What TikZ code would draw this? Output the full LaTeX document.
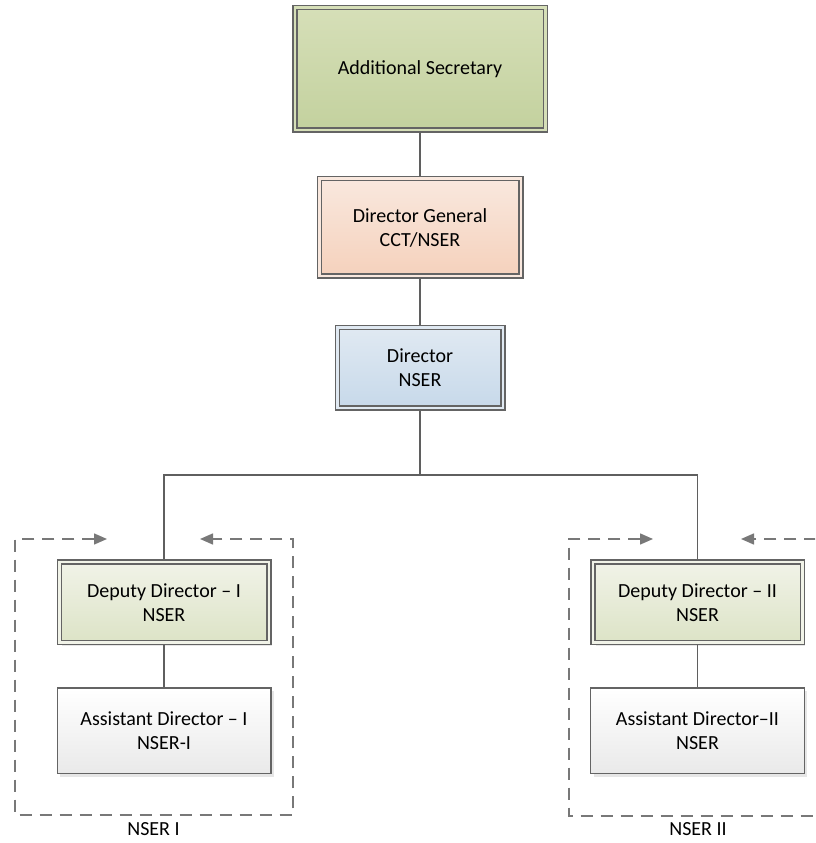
\documentclass[tikz,border=0pt]{standalone}
\usepackage{fontspec}
\setmainfont{Carlito}
\usepackage{xcolor}
\usepackage{tikz}
\usetikzlibrary{positioning}
\usetikzlibrary{arrows.meta,shadows}
\definecolor{boxline}{RGB}{100,100,100}
\definecolor{linkgray}{RGB}{95,95,95}
\definecolor{dashgray}{RGB}{120,120,120}
\definecolor{asecTop}{RGB}{214,223,184}
\definecolor{asecBot}{RGB}{195,209,158}
\definecolor{dgTop}{RGB}{249,232,222}
\definecolor{dgBot}{RGB}{245,209,188}
\definecolor{dirTop}{RGB}{224,233,242}
\definecolor{dirBot}{RGB}{199,217,234}
\definecolor{depTop}{RGB}{241,243,232}
\definecolor{depBot}{RGB}{220,227,198}
\definecolor{asstBot}{RGB}{233,233,233}
\tikzset{edge/.style = {draw=linkgray, line width=1.3pt}}
\tikzset{group/.style = {<->, >={Triangle[length=13pt,width=11pt]}, draw=dashgray, line width=1.5pt, dash pattern=on 12pt off 8pt}}

\begin{document}
\begin{tikzpicture}[x=1pt,y=1pt,node distance=45pt,
    every node/.style={font=\fontsize{20}{24}\selectfont},
    box/.style={rectangle,draw=boxline,line width=1.5pt,double distance=2.5pt,outer sep=2.75pt,align=center,
        drop shadow={shadow xshift=3pt,shadow yshift=-3pt,opacity=.2}},
    top node/.style={box,double=asecTop,top color=asecTop,bottom color=asecBot,minimum width=250.5pt,minimum height=122.5pt},
    chief node/.style={box,double=dgTop,top color=dgTop,bottom color=dgBot,minimum width=201.5pt,minimum height=97.5pt},
    head node/.style={box,double=dirTop,top color=dirTop,bottom color=dirBot,minimum width=165.5pt,minimum height=80.5pt},
    deputy node/.style={box,double=depTop,top color=depTop,bottom color=depBot,minimum width=209.5pt,minimum height=80.5pt},
    assistant node/.style={rectangle,draw=boxline,line width=1.3pt,outer sep=.65pt,align=center,top color=white,bottom color=asstBot,
        minimum width=213.7pt,minimum height=85.7pt,drop shadow={shadow xshift=3pt,shadow yshift=-3pt,opacity=.2}}]
    \clip (0,0) rectangle (815,843);

    \node[top node] (addsec) at (420,774) {Additional Secretary};
    \node[chief node] (dg) [below=43pt of addsec] {Director General\\CCT/NSER};
    \node[head node] (dir) [below=46pt of dg] {Director\\NSER};
    \coordinate[below=64pt of dir] (split);

    \node[deputy node] (dep1) at (164,240.5) {Deputy Director – I\\NSER};
    \node[assistant node] (asst1) [below=42pt of dep1] {Assistant Director – I\\NSER-I};
    \node[deputy node] (dep2) at (697.5,240.5) {Deputy Director – II\\NSER};
    \node[assistant node] (asst2) [below=42pt of dep2] {Assistant Director–II\\NSER};

    \path[edge]
        (addsec) edge (dg)
        (dg) edge (dir)
        (dep1) edge (asst1)
        (dep2) edge (asst2);
    \draw[edge] (dir.south) -- (split) -| (dep1.north);
    \draw[edge] (split) -| (dep2.north);

    \draw[group] (107,304) -- (15,304) -- (15,28) -- (293,28) -- (293,304) -- (200,304);
    \draw[group] (653,304) -- (569,304) -- (569,27) -- (840,27) -- (840,304) -- (741,304);

    \node (nser1) at (153.5,13.5) {NSER I};
    \node (nser2) at (698,13.5) {NSER II};
\end{tikzpicture}
\end{document}
